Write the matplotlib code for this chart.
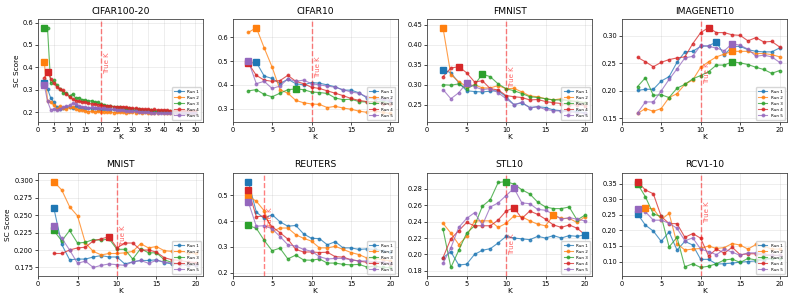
import numpy as np
import matplotlib
matplotlib.use('Agg')
import matplotlib.pyplot as plt
from matplotlib.ticker import MultipleLocator

# dataset names, true number of clusters
datasets = ['CIFAR100-20', 'CIFAR10', 'FMNIST', 'IMAGENET10',
            'MNIST', 'REUTERS', 'STL10', 'RCV1-10']
true_k = [20, 10, 10, 10, 10, 4, 10, 10]
run_labels = ['Run 1', 'Run 2', 'Run 3', 'Run 4', 'Run 5']

k_long = list(range(2, 51))
k_short = list(range(2, 21))

# SC scores, one list per run (K = 2..50)
cifar100_20 = [
    [0.330, 0.305, 0.265, 0.245, 0.222, 0.215, 0.218, 0.222, 0.226, 0.220, 0.228, 0.224, 0.220, 0.218, 0.220, 0.216, 0.218,
     0.214, 0.216, 0.213, 0.215, 0.212, 0.213, 0.210, 0.212, 0.209, 0.210, 0.208, 0.209, 0.207, 0.208, 0.205, 0.206, 0.204,
     0.205, 0.203, 0.204, 0.202, 0.200, 0.202, 0.201, 0.200, 0.201, 0.199, 0.200, 0.199, 0.198, 0.199, 0.198],
    [0.425, 0.250, 0.245, 0.232, 0.215, 0.228, 0.220, 0.214, 0.222, 0.225, 0.215, 0.210, 0.212, 0.206, 0.203, 0.205, 0.202,
     0.204, 0.201, 0.203, 0.200, 0.202, 0.199, 0.201, 0.200, 0.202, 0.199, 0.200, 0.201, 0.199, 0.200, 0.198, 0.200, 0.199,
     0.197, 0.199, 0.198, 0.200, 0.198, 0.199, 0.197, 0.198, 0.199, 0.197, 0.198, 0.196, 0.197, 0.198, 0.196],
    [0.577, 0.575, 0.330, 0.342, 0.320, 0.305, 0.285, 0.287, 0.272, 0.282, 0.262, 0.266, 0.256, 0.255, 0.250, 0.252, 0.246,
     0.244, 0.237, 0.234, 0.230, 0.228, 0.226, 0.224, 0.222, 0.221, 0.219, 0.218, 0.216, 0.215, 0.214, 0.212, 0.211, 0.210,
     0.209, 0.208, 0.207, 0.207, 0.205, 0.205, 0.204, 0.203, 0.203, 0.202, 0.202, 0.201, 0.201, 0.200, 0.200],
    [0.355, 0.380, 0.350, 0.330, 0.312, 0.302, 0.298, 0.282, 0.268, 0.258, 0.252, 0.250, 0.246, 0.244, 0.240, 0.238, 0.236,
     0.235, 0.232, 0.230, 0.229, 0.228, 0.226, 0.225, 0.224, 0.226, 0.222, 0.221, 0.218, 0.219, 0.216, 0.215, 0.213, 0.214,
     0.212, 0.213, 0.211, 0.210, 0.211, 0.209, 0.208, 0.207, 0.208, 0.206, 0.206, 0.205, 0.205, 0.204, 0.204],
    [0.320, 0.250, 0.212, 0.215, 0.210, 0.214, 0.225, 0.228, 0.232, 0.240, 0.236, 0.230, 0.226, 0.222, 0.220, 0.222, 0.219,
     0.221, 0.220, 0.218, 0.216, 0.215, 0.213, 0.212, 0.210, 0.209, 0.207, 0.206, 0.205, 0.204, 0.203, 0.202, 0.201, 0.200,
     0.199, 0.199, 0.198, 0.197, 0.195, 0.197, 0.198, 0.197, 0.198, 0.198, 0.197, 0.198, 0.197, 0.196, 0.197],
]

# K = 2..20 for the rest
cifar10 = [
    [0.490, 0.495, 0.437, 0.427, 0.405, 0.424, 0.405, 0.400, 0.410, 0.407, 0.400, 0.392, 0.378, 0.378, 0.367, 0.346, 0.340, 0.335, 0.330],
    [0.620, 0.640, 0.555, 0.475, 0.380, 0.365, 0.335, 0.325, 0.320, 0.318, 0.305, 0.310, 0.303, 0.298, 0.290, 0.285, 0.290, 0.285, 0.280],
    [0.375, 0.380, 0.360, 0.350, 0.365, 0.380, 0.383, 0.380, 0.370, 0.368, 0.364, 0.345, 0.338, 0.340, 0.330, 0.328, 0.330, 0.330, 0.320],
    [0.490, 0.440, 0.420, 0.415, 0.418, 0.440, 0.415, 0.405, 0.390, 0.385, 0.375, 0.365, 0.355, 0.343, 0.335, 0.330, 0.330, 0.320, 0.320],
    [0.500, 0.405, 0.415, 0.385, 0.395, 0.425, 0.415, 0.420, 0.405, 0.400, 0.395, 0.390, 0.380, 0.370, 0.365, 0.350, 0.345, 0.340, 0.335],
]
fmnist = [
    [0.338, 0.330, 0.305, 0.285, 0.283, 0.282, 0.284, 0.285, 0.270, 0.250, 0.255, 0.243, 0.245, 0.243, 0.237, 0.235, 0.235, 0.233, 0.230],
    [0.443, 0.325, 0.308, 0.295, 0.300, 0.292, 0.292, 0.298, 0.290, 0.291, 0.282, 0.272, 0.270, 0.265, 0.262, 0.265, 0.260, 0.258, 0.255],
    [0.300, 0.299, 0.302, 0.290, 0.300, 0.327, 0.320, 0.302, 0.290, 0.285, 0.278, 0.270, 0.268, 0.265, 0.262, 0.262, 0.260, 0.258, 0.255],
    [0.320, 0.342, 0.345, 0.330, 0.307, 0.310, 0.290, 0.287, 0.273, 0.270, 0.268, 0.262, 0.263, 0.258, 0.255, 0.253, 0.250, 0.250, 0.248],
    [0.288, 0.265, 0.280, 0.305, 0.295, 0.288, 0.290, 0.280, 0.265, 0.250, 0.256, 0.242, 0.245, 0.238, 0.235, 0.234, 0.232, 0.230, 0.228],
]
imagenet10 = [
    [0.201, 0.203, 0.203, 0.218, 0.226, 0.252, 0.271, 0.272, 0.281, 0.282, 0.289, 0.265, 0.281, 0.281, 0.275, 0.272, 0.271, 0.271, 0.278],
    [0.159, 0.168, 0.163, 0.168, 0.188, 0.195, 0.212, 0.220, 0.243, 0.253, 0.262, 0.267, 0.272, 0.272, 0.272, 0.268, 0.268, 0.266, 0.262],
    [0.208, 0.224, 0.192, 0.193, 0.188, 0.205, 0.212, 0.222, 0.228, 0.235, 0.247, 0.247, 0.253, 0.251, 0.248, 0.243, 0.239, 0.232, 0.237],
    [0.261, 0.253, 0.244, 0.252, 0.257, 0.260, 0.262, 0.286, 0.306, 0.315, 0.306, 0.306, 0.302, 0.301, 0.291, 0.297, 0.289, 0.290, 0.280],
    [0.160, 0.180, 0.180, 0.200, 0.221, 0.240, 0.260, 0.263, 0.283, 0.281, 0.278, 0.273, 0.286, 0.283, 0.276, 0.263, 0.265, 0.262, 0.252],
]
mnist = [
    [0.260, 0.208, 0.186, 0.187, 0.187, 0.190, 0.192, 0.190, 0.190, 0.180, 0.183, 0.185, 0.185, 0.186, 0.182, 0.180, 0.180, 0.178, 0.178],
    [0.298, 0.286, 0.262, 0.249, 0.210, 0.198, 0.193, 0.195, 0.195, 0.196, 0.198, 0.209, 0.203, 0.205, 0.199, 0.198, 0.198, 0.196, 0.195],
    [0.228, 0.213, 0.228, 0.210, 0.211, 0.215, 0.214, 0.216, 0.201, 0.201, 0.187, 0.202, 0.196, 0.196, 0.186, 0.182, 0.180, 0.178, 0.178],
    [0.195, 0.195, 0.200, 0.203, 0.204, 0.213, 0.216, 0.219, 0.203, 0.210, 0.210, 0.200, 0.200, 0.197, 0.189, 0.186, 0.185, 0.183, 0.182],
    [0.234, 0.217, 0.200, 0.181, 0.184, 0.175, 0.178, 0.180, 0.179, 0.178, 0.183, 0.185, 0.181, 0.185, 0.183, 0.181, 0.180, 0.178, 0.178],
]
reuters = [
    [0.553, 0.435, 0.410, 0.425, 0.397, 0.380, 0.383, 0.350, 0.333, 0.332, 0.308, 0.320, 0.296, 0.296, 0.290, 0.292, 0.290, 0.285, 0.280],
    [0.497, 0.477, 0.440, 0.360, 0.373, 0.373, 0.347, 0.333, 0.322, 0.296, 0.296, 0.302, 0.290, 0.278, 0.270, 0.257, 0.255, 0.250, 0.245],
    [0.383, 0.372, 0.325, 0.285, 0.295, 0.253, 0.268, 0.249, 0.248, 0.253, 0.237, 0.237, 0.232, 0.230, 0.232, 0.222, 0.225, 0.220, 0.220],
    [0.520, 0.417, 0.420, 0.378, 0.355, 0.330, 0.290, 0.280, 0.280, 0.278, 0.279, 0.262, 0.260, 0.250, 0.245, 0.240, 0.240, 0.240, 0.235],
    [0.473, 0.380, 0.382, 0.370, 0.340, 0.308, 0.303, 0.290, 0.283, 0.262, 0.253, 0.255, 0.255, 0.250, 0.245, 0.245, 0.242, 0.240, 0.237],
]
stl10 = [
    [0.196, 0.203, 0.187, 0.188, 0.200, 0.205, 0.207, 0.214, 0.222, 0.220, 0.219, 0.218, 0.222, 0.220, 0.223, 0.220, 0.223, 0.222, 0.224],
    [0.238, 0.226, 0.212, 0.222, 0.241, 0.241, 0.241, 0.233, 0.238, 0.247, 0.246, 0.241, 0.237, 0.235, 0.248, 0.244, 0.244, 0.239, 0.246],
    [0.231, 0.184, 0.205, 0.226, 0.235, 0.259, 0.267, 0.288, 0.289, 0.286, 0.279, 0.274, 0.264, 0.258, 0.256, 0.256, 0.258, 0.242, 0.248],
    [0.196, 0.219, 0.229, 0.239, 0.235, 0.235, 0.235, 0.242, 0.253, 0.257, 0.244, 0.253, 0.249, 0.243, 0.236, 0.233, 0.236, 0.232, 0.224],
    [0.189, 0.208, 0.233, 0.244, 0.251, 0.236, 0.258, 0.263, 0.272, 0.281, 0.263, 0.262, 0.255, 0.254, 0.249, 0.243, 0.245, 0.243, 0.241],
]
rcv1_10 = [
    [0.253, 0.217, 0.198, 0.165, 0.195, 0.137, 0.165, 0.153, 0.107, 0.107, 0.092, 0.093, 0.095, 0.098, 0.100, 0.102, 0.105, 0.110, 0.110],
    [0.265, 0.272, 0.270, 0.235, 0.255, 0.158, 0.137, 0.140, 0.142, 0.150, 0.142, 0.145, 0.158, 0.153, 0.140, 0.155, 0.150, 0.140, 0.140],
    [0.350, 0.308, 0.253, 0.245, 0.147, 0.178, 0.083, 0.093, 0.081, 0.085, 0.093, 0.105, 0.108, 0.097, 0.110, 0.105, 0.110, 0.110, 0.110],
    [0.357, 0.330, 0.318, 0.245, 0.222, 0.222, 0.178, 0.190, 0.175, 0.118, 0.140, 0.127, 0.146, 0.122, 0.125, 0.125, 0.120, 0.120, 0.120],
    [0.268, 0.260, 0.233, 0.233, 0.223, 0.207, 0.167, 0.176, 0.140, 0.132, 0.122, 0.140, 0.130, 0.120, 0.128, 0.128, 0.125, 0.120, 0.120],
]

all_scores = [cifar100_20, cifar10, fmnist, imagenet10, mnist, reuters, stl10, rcv1_10]
all_k = [k_long] + [k_short] * 7
# where the "True K" label sits (data y) and y tick step per panel
label_y = [0.42, 0.475, 0.32, 0.233, 0.22, 0.41, 0.213, 0.26]
y_step = [0.1, 0.1, 0.05, 0.05, 0.025, 0.1, 0.02, 0.05]

colors = plt.rcParams['axes.prop_cycle'].by_key()['color'][:5]

fig, axes = plt.subplots(2, 4, figsize=(7.93, 3.03), dpi=100)
fig.subplots_adjust(left=0.048, right=0.992, top=0.937, bottom=0.089, wspace=0.18, hspace=0.495)

for idx, ax in enumerate(axes.flat):
    ks = np.array(all_k[idx])
    for r, scores in enumerate(all_scores[idx]):
        scores = np.array(scores)
        ax.plot(ks, scores, marker='o', markersize=1.8, linewidth=0.8, alpha=0.75,
                color=colors[r], label=run_labels[r])
        best = np.argmax(scores)
        ax.plot(ks[best], scores[best], marker='s', markersize=4.5, color=colors[r],
                linestyle='none', zorder=3)

    ax.margins(x=0.05, y=0.1)
    ax.set_xlim(left=0)
    x0, x1 = ax.get_xlim()
    ax.xaxis.set_major_locator(MultipleLocator(5))
    ax.yaxis.set_major_locator(MultipleLocator(y_step[idx]))

    ax.axvline(true_k[idx], color='red', linestyle='--', linewidth=1.0, alpha=0.5)
    ax.text(true_k[idx] + 0.02 * (x1 - x0), label_y[idx], 'True K', rotation=90,
            color='red', alpha=0.6, fontsize=5, ha='left', va='center')

    ax.set_title(datasets[idx], fontsize=6.6, pad=4)
    ax.set_xlabel('K', fontsize=5.3, labelpad=1)
    if idx % 4 == 0:
        ax.set_ylabel('SC Score', fontsize=5.3, labelpad=2)
    ax.tick_params(labelsize=4.8, length=2, width=0.5, pad=1.5)
    ax.grid(True, alpha=0.3, linewidth=0.5)
    for sp in ax.spines.values():
        sp.set_linewidth(0.6)
        sp.set_color('#444444')
    ax.legend(loc='lower right', fontsize=3, markerscale=1.0, handlelength=2.2,
              borderpad=0.5, labelspacing=0.5, frameon=True)

fig.savefig('out.png', dpi=100)
